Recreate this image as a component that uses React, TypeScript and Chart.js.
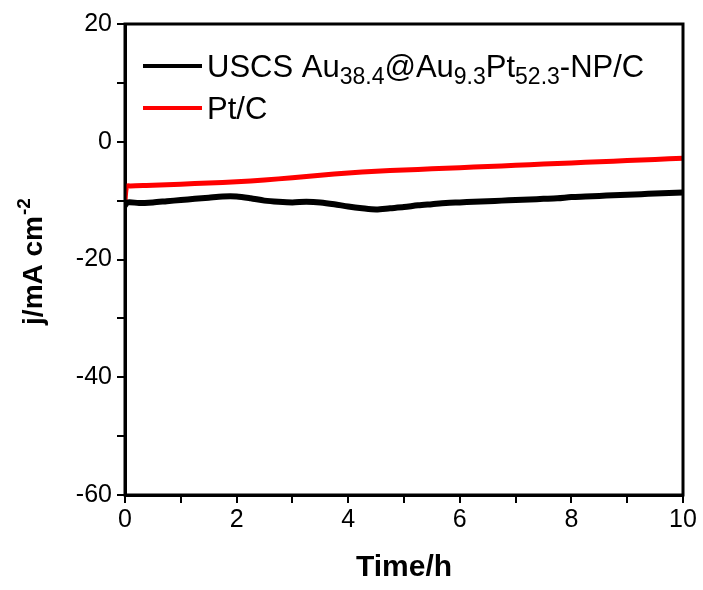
import React, { useEffect, useRef } from 'react';
import Chart from 'chart.js/auto';

// ---- data ----
const uscsTime = [0, 0.05, 0.25, 0.5, 0.75, 1, 1.25, 1.5, 1.75, 2, 2.25, 2.5, 2.75, 3, 3.25, 3.5, 3.75, 4, 4.25, 4.5, 4.75, 5, 5.25, 5.5, 5.75, 6, 6.25, 6.5, 6.75, 7, 7.25, 7.5, 7.75, 8, 8.25, 8.5, 8.75, 9, 9.25, 9.5, 9.75, 10];
const uscsJ = [-10.8, -10.3, -10.4, -10.3, -10.1, -9.9, -9.7, -9.5, -9.3, -9.3, -9.6, -10.0, -10.2, -10.3, -10.2, -10.3, -10.6, -11.0, -11.3, -11.5, -11.3, -11.1, -10.8, -10.6, -10.4, -10.3, -10.2, -10.1, -10.0, -9.9, -9.8, -9.7, -9.6, -9.4, -9.3, -9.2, -9.1, -9.0, -8.9, -8.8, -8.7, -8.6];
const ptTime = [0, 0.03, 0.1, 0.5, 1, 1.5, 2, 2.5, 3, 3.5, 4, 4.5, 5, 5.5, 6, 6.5, 7, 7.5, 8, 8.5, 9, 9.5, 10];
const ptJ = [-10.0, -7.6, -7.5, -7.4, -7.2, -7.0, -6.8, -6.5, -6.1, -5.7, -5.3, -5.0, -4.8, -4.6, -4.4, -4.2, -4.0, -3.8, -3.6, -3.4, -3.2, -3.0, -2.8];

const xLabelTicks = [0, 2, 4, 6, 8, 10];
const yLabelTicks = [-60, -40, -20, 0, 20];

const seriesNames = ['USCS Au38.4@Au9.3Pt52.3-NP/C', 'Pt/C'];
// legend text pieces: [text, isSubscript]
const legendPieces: [string, boolean][][] = [
  [['USCS Au', false], ['38.4', true], ['@Au', false], ['9.3', true], ['Pt', false], ['52.3', true], ['-NP/C', false]],
  [['Pt/C', false]],
];
const seriesColors = ['#000000', '#ff0000'];
const yTitleMain = 'j/mA cm';
const yTitleSup = '-2';
const xTitle = 'Time/h';

const FONT = '"Liberation Sans", Arial, Helvetica, sans-serif';

const overlayPlugin = {
  id: 'overlay',
  afterDraw(chart: any) {
    const { ctx, chartArea: a } = chart;
    ctx.save();
    // frame
    ctx.strokeStyle = '#000';
    ctx.lineWidth = 3;
    ctx.strokeRect(a.left, a.top, a.right - a.left, a.bottom - a.top);

    // legend
    const rows = [66, 108];
    legendPieces.forEach((pieces, i) => {
      const y = rows[i];
      ctx.strokeStyle = seriesColors[i];
      ctx.lineWidth = 4;
      ctx.beginPath();
      ctx.moveTo(a.left + 18, y);
      ctx.lineTo(a.left + 77, y);
      ctx.stroke();
      let x = a.left + 82;
      ctx.fillStyle = '#000';
      ctx.textBaseline = 'alphabetic';
      ctx.textAlign = 'left';
      for (const [t, sub] of pieces) {
        ctx.font = sub ? `23px ${FONT}` : `31px ${FONT}`;
        ctx.fillText(t, x, sub ? y + 18 : y + 11);
        x += ctx.measureText(t).width;
      }
    });

    // y title with superscript
    ctx.translate(42, 262);
    ctx.rotate(-Math.PI / 2);
    ctx.fillStyle = '#000';
    ctx.font = `bold 28px ${FONT}`;
    const w1 = ctx.measureText(yTitleMain).width;
    ctx.font = `bold 19px ${FONT}`;
    const w2 = ctx.measureText(yTitleSup).width;
    const start = -(w1 + w2) / 2;
    ctx.font = `bold 28px ${FONT}`;
    ctx.textAlign = 'left';
    ctx.fillText(yTitleMain, start, 0);
    ctx.font = `bold 19px ${FONT}`;
    ctx.fillText(yTitleSup, start + w1 + 1, -12);
    ctx.restore();
  },
};

export default function App() {
  const ref = useRef<HTMLCanvasElement>(null);
  useEffect(() => {
    document.body.style.margin = '0';
    const chart = new Chart(ref.current!, {
      type: 'line',
      data: {
        datasets: [
          {
            label: seriesNames[0],
            data: uscsTime.map((t, i) => ({ x: t, y: uscsJ[i] })),
            borderColor: seriesColors[0],
            borderWidth: 6,
            pointRadius: 0,
            tension: 0.3,
          },
          {
            label: seriesNames[1],
            data: ptTime.map((t, i) => ({ x: t, y: ptJ[i] })),
            borderColor: seriesColors[1],
            borderWidth: 5,
            pointRadius: 0,
            tension: 0.3,
          },
        ],
      },
      options: {
        animation: false,
        responsive: false,
        maintainAspectRatio: false,
        layout: { padding: { left: 0, top: 24, right: 20, bottom: 0 } },
        plugins: { legend: { display: false }, tooltip: { enabled: false } },
        scales: {
          x: {
            type: 'linear',
            min: 0,
            max: 10,
            ticks: {
              stepSize: 1,
              autoSkip: false,
              maxRotation: 0,
              color: '#000',
              font: { family: FONT, size: 25 },
              padding: 2,
              callback: (v: any) => (xLabelTicks.includes(Number(v)) ? String(v) : ''),
            },
            grid: { display: true, drawOnChartArea: false, drawTicks: true, tickLength: 8, color: '#000', lineWidth: 2 },
            border: { display: true, color: '#000', width: 3 },
            title: { display: true, text: xTitle, color: '#000', font: { family: FONT, size: 30, weight: 'bold' }, padding: { top: 10 } },
            afterFit: (s: any) => { s.height = 95; },
          },
          y: {
            type: 'linear',
            min: -60,
            max: 20,
            ticks: {
              stepSize: 10,
              autoSkip: false,
              color: '#000',
              font: { family: FONT, size: 25 },
              padding: 5,
              callback: (v: any) => (yLabelTicks.includes(Number(v)) ? String(v) : ''),
            },
            grid: { display: true, drawOnChartArea: false, drawTicks: true, tickLength: 8, color: '#000', lineWidth: 2 },
            border: { display: true, color: '#000', width: 3 },
            afterFit: (s: any) => { s.width = 125; },
          },
        },
      },
      plugins: [overlayPlugin],
    } as any);
    return () => chart.destroy();
  }, []);
  return (
    <div style={{ position: 'absolute', left: 0, top: 0, width: 703, height: 590, background: '#fff' }}>
      <canvas ref={ref} width={703} height={590} />
    </div>
  );
}
